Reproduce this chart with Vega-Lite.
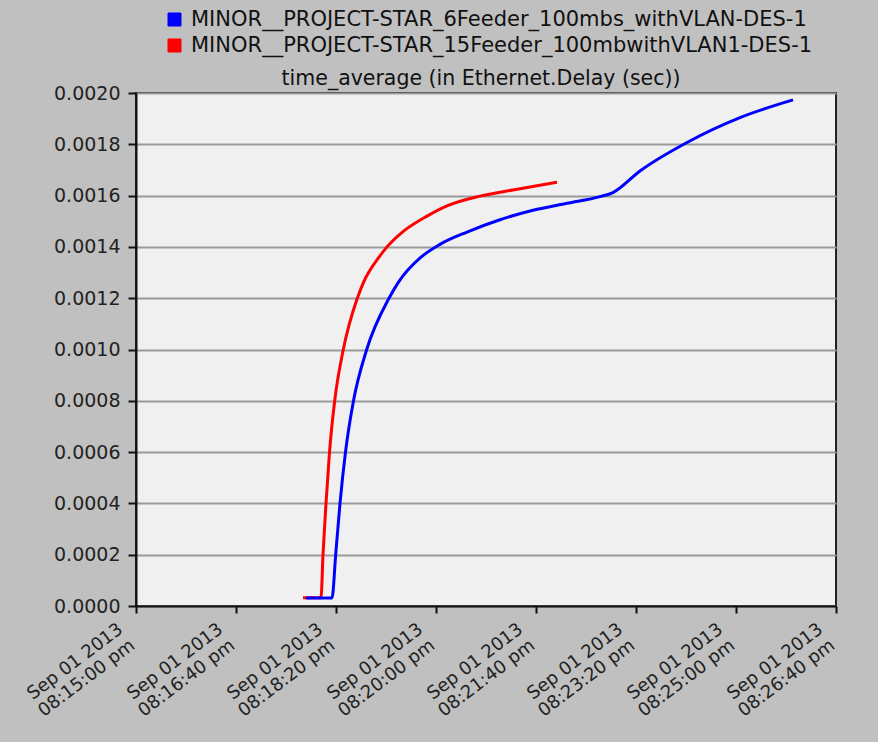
{
  "$schema": "https://vega.github.io/schema/vega-lite/v6.json",
  "width": 700,
  "height": 513,
  "autosize": "none",
  "padding": {"left": 136, "top": 93, "right": 42, "bottom": 136},
  "background": "#c0c0c0",
  "title": {
    "text": "time_average (in Ethernet.Delay (sec))",
    "font": "DejaVu Sans",
    "fontSize": 20.5,
    "fontWeight": "normal",
    "color": "#111111",
    "anchor": "middle",
    "frame": "group",
    "offset": 7,
    "dx": -5,
    "dy": 87
  },
  "config": {
    "view": {"fill": "#f0f0f0", "stroke": "#222222", "strokeWidth": 2},
    "axis": {
      "labelFont": "DejaVu Sans",
      "labelColor": "#222222",
      "domainColor": "#111111",
      "domainWidth": 2,
      "tickColor": "#111111",
      "tickWidth": 2,
      "title": null
    }
  },
  "datasets": {
    "delay": [
      {"series": "MINOR__PROJECT-STAR_15Feeder_100mbwithVLAN1-DES-1", "time": "2013-09-01T20:17:47Z", "delay": 0.0000323},
      {"series": "MINOR__PROJECT-STAR_15Feeder_100mbwithVLAN1-DES-1", "time": "2013-09-01T20:18:05Z", "delay": 0.0000323},
      {"series": "MINOR__PROJECT-STAR_15Feeder_100mbwithVLAN1-DES-1", "time": "2013-09-01T20:18:07Z", "delay": 0.0002},
      {"series": "MINOR__PROJECT-STAR_15Feeder_100mbwithVLAN1-DES-1", "time": "2013-09-01T20:18:10Z", "delay": 0.0004},
      {"series": "MINOR__PROJECT-STAR_15Feeder_100mbwithVLAN1-DES-1", "time": "2013-09-01T20:18:13.5Z", "delay": 0.0006},
      {"series": "MINOR__PROJECT-STAR_15Feeder_100mbwithVLAN1-DES-1", "time": "2013-09-01T20:18:18.7Z", "delay": 0.0008},
      {"series": "MINOR__PROJECT-STAR_15Feeder_100mbwithVLAN1-DES-1", "time": "2013-09-01T20:18:27.3Z", "delay": 0.0010},
      {"series": "MINOR__PROJECT-STAR_15Feeder_100mbwithVLAN1-DES-1", "time": "2013-09-01T20:18:41.3Z", "delay": 0.0012},
      {"series": "MINOR__PROJECT-STAR_15Feeder_100mbwithVLAN1-DES-1", "time": "2013-09-01T20:18:47.3Z", "delay": 0.00126},
      {"series": "MINOR__PROJECT-STAR_15Feeder_100mbwithVLAN1-DES-1", "time": "2013-09-01T20:19:04Z", "delay": 0.001365},
      {"series": "MINOR__PROJECT-STAR_15Feeder_100mbwithVLAN1-DES-1", "time": "2013-09-01T20:19:11Z", "delay": 0.0014},
      {"series": "MINOR__PROJECT-STAR_15Feeder_100mbwithVLAN1-DES-1", "time": "2013-09-01T20:19:24Z", "delay": 0.00145},
      {"series": "MINOR__PROJECT-STAR_15Feeder_100mbwithVLAN1-DES-1", "time": "2013-09-01T20:19:51Z", "delay": 0.00152},
      {"series": "MINOR__PROJECT-STAR_15Feeder_100mbwithVLAN1-DES-1", "time": "2013-09-01T20:20:11Z", "delay": 0.00156},
      {"series": "MINOR__PROJECT-STAR_15Feeder_100mbwithVLAN1-DES-1", "time": "2013-09-01T20:20:44Z", "delay": 0.001598},
      {"series": "MINOR__PROJECT-STAR_15Feeder_100mbwithVLAN1-DES-1", "time": "2013-09-01T20:21:17Z", "delay": 0.001622},
      {"series": "MINOR__PROJECT-STAR_15Feeder_100mbwithVLAN1-DES-1", "time": "2013-09-01T20:22:01Z", "delay": 0.001652},
      {"series": "MINOR__PROJECT-STAR_6Feeder_100mbs_withVLAN-DES-1", "time": "2013-09-01T20:17:50Z", "delay": 0.0000311},
      {"series": "MINOR__PROJECT-STAR_6Feeder_100mbs_withVLAN-DES-1", "time": "2013-09-01T20:18:16Z", "delay": 0.0000311},
      {"series": "MINOR__PROJECT-STAR_6Feeder_100mbs_withVLAN-DES-1", "time": "2013-09-01T20:18:19.7Z", "delay": 0.0002},
      {"series": "MINOR__PROJECT-STAR_6Feeder_100mbs_withVLAN-DES-1", "time": "2013-09-01T20:18:24Z", "delay": 0.0004},
      {"series": "MINOR__PROJECT-STAR_6Feeder_100mbs_withVLAN-DES-1", "time": "2013-09-01T20:18:29.5Z", "delay": 0.0006},
      {"series": "MINOR__PROJECT-STAR_6Feeder_100mbs_withVLAN-DES-1", "time": "2013-09-01T20:18:37.5Z", "delay": 0.0008},
      {"series": "MINOR__PROJECT-STAR_6Feeder_100mbs_withVLAN-DES-1", "time": "2013-09-01T20:18:50.7Z", "delay": 0.0010},
      {"series": "MINOR__PROJECT-STAR_6Feeder_100mbs_withVLAN-DES-1", "time": "2013-09-01T20:19:13Z", "delay": 0.0012},
      {"series": "MINOR__PROJECT-STAR_6Feeder_100mbs_withVLAN-DES-1", "time": "2013-09-01T20:19:22Z", "delay": 0.00126},
      {"series": "MINOR__PROJECT-STAR_6Feeder_100mbs_withVLAN-DES-1", "time": "2013-09-01T20:19:45Z", "delay": 0.00136},
      {"series": "MINOR__PROJECT-STAR_6Feeder_100mbs_withVLAN-DES-1", "time": "2013-09-01T20:20:04Z", "delay": 0.00141},
      {"series": "MINOR__PROJECT-STAR_6Feeder_100mbs_withVLAN-DES-1", "time": "2013-09-01T20:20:31Z", "delay": 0.001458},
      {"series": "MINOR__PROJECT-STAR_6Feeder_100mbs_withVLAN-DES-1", "time": "2013-09-01T20:21:04Z", "delay": 0.001506},
      {"series": "MINOR__PROJECT-STAR_6Feeder_100mbs_withVLAN-DES-1", "time": "2013-09-01T20:21:37Z", "delay": 0.001543},
      {"series": "MINOR__PROJECT-STAR_6Feeder_100mbs_withVLAN-DES-1", "time": "2013-09-01T20:22:11Z", "delay": 0.00157},
      {"series": "MINOR__PROJECT-STAR_6Feeder_100mbs_withVLAN-DES-1", "time": "2013-09-01T20:22:44Z", "delay": 0.001596},
      {"series": "MINOR__PROJECT-STAR_6Feeder_100mbs_withVLAN-DES-1", "time": "2013-09-01T20:22:57Z", "delay": 0.001612},
      {"series": "MINOR__PROJECT-STAR_6Feeder_100mbs_withVLAN-DES-1", "time": "2013-09-01T20:23:24Z", "delay": 0.001696},
      {"series": "MINOR__PROJECT-STAR_6Feeder_100mbs_withVLAN-DES-1", "time": "2013-09-01T20:24:11Z", "delay": 0.001807},
      {"series": "MINOR__PROJECT-STAR_6Feeder_100mbs_withVLAN-DES-1", "time": "2013-09-01T20:25:04Z", "delay": 0.001904},
      {"series": "MINOR__PROJECT-STAR_6Feeder_100mbs_withVLAN-DES-1", "time": "2013-09-01T20:25:57Z", "delay": 0.001973}
    ]
  },
  "data": {"name": "delay"},
  "mark": {"type": "line", "strokeWidth": 3, "interpolate": "monotone", "clip": true},
  "encoding": {
    "x": {
      "field": "time",
      "type": "temporal",
      "scale": {
        "type": "utc",
        "domain": [
          {"year": 2013, "month": 9, "date": 1, "hours": 20, "minutes": 15, "seconds": 0, "utc": true},
          {"year": 2013, "month": 9, "date": 1, "hours": 20, "minutes": 26, "seconds": 40, "utc": true}
        ]
      },
      "axis": {
        "values": [
          {"year": 2013, "month": 9, "date": 1, "hours": 20, "minutes": 15, "seconds": 0, "utc": true},
          {"year": 2013, "month": 9, "date": 1, "hours": 20, "minutes": 16, "seconds": 40, "utc": true},
          {"year": 2013, "month": 9, "date": 1, "hours": 20, "minutes": 18, "seconds": 20, "utc": true},
          {"year": 2013, "month": 9, "date": 1, "hours": 20, "minutes": 20, "seconds": 0, "utc": true},
          {"year": 2013, "month": 9, "date": 1, "hours": 20, "minutes": 21, "seconds": 40, "utc": true},
          {"year": 2013, "month": 9, "date": 1, "hours": 20, "minutes": 23, "seconds": 20, "utc": true},
          {"year": 2013, "month": 9, "date": 1, "hours": 20, "minutes": 25, "seconds": 0, "utc": true},
          {"year": 2013, "month": 9, "date": 1, "hours": 20, "minutes": 26, "seconds": 40, "utc": true}
        ],
        "labelExpr": "[utcFormat(datum.value, '%b %d %Y'), lower(utcFormat(datum.value, '%I:%M:%S %p'))]",
        "labelAngle": -37,
        "labelAlign": "right",
        "labelBaseline": "top",
        "labelFontSize": 18,
        "labelLineHeight": 20,
        "labelPadding": 7,
        "labelOffset": -21,
        "tickSize": 7,
        "grid": false,
        "labelOverlap": false,
        "labelBound": false,
        "labelFlush": false
      }
    },
    "y": {
      "field": "delay",
      "type": "quantitative",
      "scale": {"domain": [0, 0.002], "nice": false, "zero": true},
      "axis": {
        "values": [0, 0.0002, 0.0004, 0.0006, 0.0008, 0.001, 0.0012, 0.0014, 0.0016, 0.0018, 0.002],
        "format": ".4f",
        "labelFontSize": 19,
        "labelPadding": 8,
        "tickSize": 8,
        "grid": true,
        "gridColor": "#9a9a9a",
        "gridWidth": 2,
        "labelFlush": false,
        "labelOverlap": false
      }
    },
    "color": {
      "field": "series",
      "type": "nominal",
      "scale": {
        "domain": ["MINOR__PROJECT-STAR_6Feeder_100mbs_withVLAN-DES-1", "MINOR__PROJECT-STAR_15Feeder_100mbwithVLAN1-DES-1"],
        "range": ["#0000ff", "#ff0000"]
      },
      "legend": {
        "title": null,
        "orient": "none",
        "legendX": 28,
        "legendY": -84,
        "symbolType": "square",
        "symbolSize": 169,
        "symbolStrokeWidth": 1,
        "labelFont": "DejaVu Sans",
        "labelFontSize": 21,
        "labelColor": "#111111",
        "labelOffset": 6,
        "rowPadding": 4,
        "labelLimit": 800,
        "encode": {
          "symbols": {
            "update": {
              "fill": {"scale": "color", "field": "value"},
              "fillOpacity": {"value": 1},
              "stroke": {"value": "#111111"},
              "strokeWidth": {"value": 1}
            }
          }
        }
      }
    }
  }
}
